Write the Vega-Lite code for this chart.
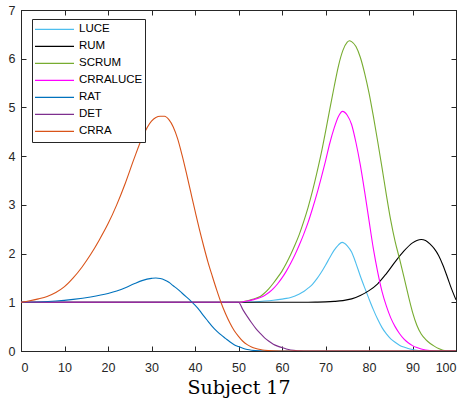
{
  "$schema": "https://vega.github.io/schema/vega-lite/v6.json",
  "width": 435,
  "height": 341,
  "autosize": "none",
  "padding": {"left": 21, "top": 10, "right": 11, "bottom": 51},
  "background": "white",
  "config": {
    "view": {"stroke": "#262626", "strokeWidth": 1},
    "axis": {
      "grid": false,
      "domainColor": "#262626",
      "tickColor": "#262626",
      "tickSize": -5,
      "labelFont": "Liberation Sans",
      "labelFontSize": 12.5,
      "labelColor": "#262626"
    },
    "legend": {
      "orient": "none",
      "legendX": 11,
      "legendY": 9,
      "strokeColor": "#262626",
      "fillColor": "white",
      "padding": 2,
      "symbolType": "stroke",
      "symbolSize": 1521,
      "symbolStrokeWidth": 1.1,
      "labelFont": "Liberation Sans",
      "labelFontSize": 11.5,
      "labelColor": "black",
      "rowPadding": 0,
      "clipHeight": 16.7,
      "labelOffset": 4
    }
  },
  "data": {"values": [
    {"s":"LUCE","x":0,"y":1},{"s":"LUCE","x":50,"y":1},{"s":"LUCE","x":52,"y":1.005},{"s":"LUCE","x":54,"y":1.012},{"s":"LUCE","x":56,"y":1.025},{"s":"LUCE","x":58,"y":1.042},{"s":"LUCE","x":60,"y":1.065},{"s":"LUCE","x":61,"y":1.08},{"s":"LUCE","x":62,"y":1.1},{"s":"LUCE","x":63,"y":1.13},{"s":"LUCE","x":64,"y":1.17},{"s":"LUCE","x":65,"y":1.22},{"s":"LUCE","x":66,"y":1.29},{"s":"LUCE","x":67,"y":1.37},{"s":"LUCE","x":68,"y":1.48},{"s":"LUCE","x":69,"y":1.61},{"s":"LUCE","x":70,"y":1.76},{"s":"LUCE","x":71,"y":1.92},{"s":"LUCE","x":72,"y":2.07},{"s":"LUCE","x":73,"y":2.18},{"s":"LUCE","x":73.8,"y":2.23},{"s":"LUCE","x":75,"y":2.16},{"s":"LUCE","x":76,"y":2.03},{"s":"LUCE","x":77,"y":1.8},{"s":"LUCE","x":78,"y":1.54},{"s":"LUCE","x":79,"y":1.3},{"s":"LUCE","x":80,"y":1.07},{"s":"LUCE","x":81,"y":0.85},{"s":"LUCE","x":82,"y":0.65},{"s":"LUCE","x":83,"y":0.48},{"s":"LUCE","x":84,"y":0.35},{"s":"LUCE","x":85,"y":0.25},{"s":"LUCE","x":86,"y":0.18},{"s":"LUCE","x":87,"y":0.12},{"s":"LUCE","x":88,"y":0.08},{"s":"LUCE","x":89,"y":0.05},{"s":"LUCE","x":90,"y":0.03},{"s":"LUCE","x":91,"y":0.015},{"s":"LUCE","x":92,"y":0.008},{"s":"LUCE","x":94,"y":0},{"s":"LUCE","x":100,"y":0},
    {"s":"RUM","x":0,"y":1},{"s":"RUM","x":66,"y":1},{"s":"RUM","x":68,"y":1.003},{"s":"RUM","x":70,"y":1.008},{"s":"RUM","x":72,"y":1.018},{"s":"RUM","x":74,"y":1.035},{"s":"RUM","x":76,"y":1.07},{"s":"RUM","x":78,"y":1.14},{"s":"RUM","x":80,"y":1.24},{"s":"RUM","x":82,"y":1.38},{"s":"RUM","x":84,"y":1.59},{"s":"RUM","x":86,"y":1.83},{"s":"RUM","x":88,"y":2.05},{"s":"RUM","x":90,"y":2.22},{"s":"RUM","x":91,"y":2.27},{"s":"RUM","x":92,"y":2.29},{"s":"RUM","x":93,"y":2.27},{"s":"RUM","x":94,"y":2.2},{"s":"RUM","x":95,"y":2.1},{"s":"RUM","x":96,"y":1.96},{"s":"RUM","x":97,"y":1.76},{"s":"RUM","x":98,"y":1.52},{"s":"RUM","x":99,"y":1.27},{"s":"RUM","x":100,"y":1.05},
    {"s":"SCRUM","x":0,"y":1},{"s":"SCRUM","x":50,"y":1},{"s":"SCRUM","x":51,"y":1.01},{"s":"SCRUM","x":52,"y":1.03},{"s":"SCRUM","x":53,"y":1.055},{"s":"SCRUM","x":54,"y":1.085},{"s":"SCRUM","x":55,"y":1.12},{"s":"SCRUM","x":56,"y":1.19},{"s":"SCRUM","x":57,"y":1.28},{"s":"SCRUM","x":58,"y":1.39},{"s":"SCRUM","x":59,"y":1.51},{"s":"SCRUM","x":60,"y":1.64},{"s":"SCRUM","x":61,"y":1.8},{"s":"SCRUM","x":62,"y":1.98},{"s":"SCRUM","x":63,"y":2.18},{"s":"SCRUM","x":64,"y":2.4},{"s":"SCRUM","x":65,"y":2.66},{"s":"SCRUM","x":66,"y":2.95},{"s":"SCRUM","x":67,"y":3.28},{"s":"SCRUM","x":68,"y":3.65},{"s":"SCRUM","x":69,"y":4.05},{"s":"SCRUM","x":70,"y":4.5},{"s":"SCRUM","x":71,"y":4.97},{"s":"SCRUM","x":72,"y":5.43},{"s":"SCRUM","x":73,"y":5.86},{"s":"SCRUM","x":74,"y":6.17},{"s":"SCRUM","x":75,"y":6.34},{"s":"SCRUM","x":75.5,"y":6.37},{"s":"SCRUM","x":76,"y":6.35},{"s":"SCRUM","x":77,"y":6.25},{"s":"SCRUM","x":78,"y":6.03},{"s":"SCRUM","x":79,"y":5.7},{"s":"SCRUM","x":80,"y":5.3},{"s":"SCRUM","x":81,"y":4.82},{"s":"SCRUM","x":82,"y":4.3},{"s":"SCRUM","x":83,"y":3.76},{"s":"SCRUM","x":84,"y":3.2},{"s":"SCRUM","x":85,"y":2.68},{"s":"SCRUM","x":86,"y":2.25},{"s":"SCRUM","x":87,"y":1.9},{"s":"SCRUM","x":88,"y":1.53},{"s":"SCRUM","x":89,"y":1.15},{"s":"SCRUM","x":90,"y":0.8},{"s":"SCRUM","x":91,"y":0.53},{"s":"SCRUM","x":92,"y":0.35},{"s":"SCRUM","x":93,"y":0.24},{"s":"SCRUM","x":94,"y":0.16},{"s":"SCRUM","x":95,"y":0.1},{"s":"SCRUM","x":96,"y":0.05},{"s":"SCRUM","x":97,"y":0.015},{"s":"SCRUM","x":98,"y":0.003},{"s":"SCRUM","x":99,"y":0},{"s":"SCRUM","x":100,"y":0},
    {"s":"CRRALUCE","x":0,"y":1},{"s":"CRRALUCE","x":50,"y":1},{"s":"CRRALUCE","x":51,"y":1.01},{"s":"CRRALUCE","x":52,"y":1.025},{"s":"CRRALUCE","x":53,"y":1.045},{"s":"CRRALUCE","x":54,"y":1.07},{"s":"CRRALUCE","x":55,"y":1.1},{"s":"CRRALUCE","x":56,"y":1.14},{"s":"CRRALUCE","x":57,"y":1.2},{"s":"CRRALUCE","x":58,"y":1.28},{"s":"CRRALUCE","x":59,"y":1.38},{"s":"CRRALUCE","x":60,"y":1.5},{"s":"CRRALUCE","x":61,"y":1.64},{"s":"CRRALUCE","x":62,"y":1.8},{"s":"CRRALUCE","x":63,"y":1.98},{"s":"CRRALUCE","x":64,"y":2.18},{"s":"CRRALUCE","x":65,"y":2.4},{"s":"CRRALUCE","x":66,"y":2.64},{"s":"CRRALUCE","x":67,"y":2.92},{"s":"CRRALUCE","x":68,"y":3.22},{"s":"CRRALUCE","x":69,"y":3.55},{"s":"CRRALUCE","x":70,"y":3.9},{"s":"CRRALUCE","x":71,"y":4.27},{"s":"CRRALUCE","x":72,"y":4.58},{"s":"CRRALUCE","x":73,"y":4.82},{"s":"CRRALUCE","x":73.9,"y":4.92},{"s":"CRRALUCE","x":75,"y":4.84},{"s":"CRRALUCE","x":76,"y":4.65},{"s":"CRRALUCE","x":77,"y":4.28},{"s":"CRRALUCE","x":78,"y":3.82},{"s":"CRRALUCE","x":79,"y":3.27},{"s":"CRRALUCE","x":80,"y":2.68},{"s":"CRRALUCE","x":81,"y":2.1},{"s":"CRRALUCE","x":82,"y":1.62},{"s":"CRRALUCE","x":83,"y":1.22},{"s":"CRRALUCE","x":84,"y":0.92},{"s":"CRRALUCE","x":85,"y":0.68},{"s":"CRRALUCE","x":86,"y":0.5},{"s":"CRRALUCE","x":87,"y":0.36},{"s":"CRRALUCE","x":88,"y":0.25},{"s":"CRRALUCE","x":89,"y":0.17},{"s":"CRRALUCE","x":90,"y":0.11},{"s":"CRRALUCE","x":91,"y":0.07},{"s":"CRRALUCE","x":92,"y":0.04},{"s":"CRRALUCE","x":93,"y":0.02},{"s":"CRRALUCE","x":94,"y":0.008},{"s":"CRRALUCE","x":96,"y":0},{"s":"CRRALUCE","x":100,"y":0},
    {"s":"RAT","x":0,"y":1},{"s":"RAT","x":4,"y":1.007},{"s":"RAT","x":8,"y":1.025},{"s":"RAT","x":12,"y":1.06},{"s":"RAT","x":16,"y":1.11},{"s":"RAT","x":20,"y":1.18},{"s":"RAT","x":22,"y":1.23},{"s":"RAT","x":24,"y":1.3},{"s":"RAT","x":26,"y":1.38},{"s":"RAT","x":28,"y":1.45},{"s":"RAT","x":30,"y":1.49},{"s":"RAT","x":31,"y":1.5},{"s":"RAT","x":32,"y":1.49},{"s":"RAT","x":33,"y":1.46},{"s":"RAT","x":34,"y":1.41},{"s":"RAT","x":35,"y":1.34},{"s":"RAT","x":36,"y":1.27},{"s":"RAT","x":37,"y":1.19},{"s":"RAT","x":38,"y":1.11},{"s":"RAT","x":39,"y":1.03},{"s":"RAT","x":40,"y":0.94},{"s":"RAT","x":41,"y":0.84},{"s":"RAT","x":42,"y":0.72},{"s":"RAT","x":43,"y":0.61},{"s":"RAT","x":44,"y":0.5},{"s":"RAT","x":45,"y":0.41},{"s":"RAT","x":46,"y":0.33},{"s":"RAT","x":47,"y":0.26},{"s":"RAT","x":48,"y":0.19},{"s":"RAT","x":49,"y":0.13},{"s":"RAT","x":50,"y":0.09},{"s":"RAT","x":51,"y":0.055},{"s":"RAT","x":52,"y":0.03},{"s":"RAT","x":53,"y":0.015},{"s":"RAT","x":55,"y":0.003},{"s":"RAT","x":57,"y":0},{"s":"RAT","x":100,"y":0},
    {"s":"DET","x":0,"y":1},{"s":"DET","x":50,"y":1},{"s":"DET","x":51,"y":0.85},{"s":"DET","x":52,"y":0.71},{"s":"DET","x":53,"y":0.58},{"s":"DET","x":54,"y":0.46},{"s":"DET","x":55,"y":0.36},{"s":"DET","x":56,"y":0.27},{"s":"DET","x":57,"y":0.2},{"s":"DET","x":58,"y":0.14},{"s":"DET","x":59,"y":0.1},{"s":"DET","x":60,"y":0.07},{"s":"DET","x":61,"y":0.04},{"s":"DET","x":62,"y":0.02},{"s":"DET","x":64,"y":0.005},{"s":"DET","x":66,"y":0},{"s":"DET","x":100,"y":0},
    {"s":"CRRA","x":0,"y":1},{"s":"CRRA","x":2,"y":1.03},{"s":"CRRA","x":4,"y":1.07},{"s":"CRRA","x":6,"y":1.12},{"s":"CRRA","x":8,"y":1.2},{"s":"CRRA","x":10,"y":1.32},{"s":"CRRA","x":12,"y":1.5},{"s":"CRRA","x":14,"y":1.72},{"s":"CRRA","x":16,"y":1.98},{"s":"CRRA","x":18,"y":2.28},{"s":"CRRA","x":20,"y":2.61},{"s":"CRRA","x":22,"y":3.0},{"s":"CRRA","x":24,"y":3.45},{"s":"CRRA","x":26,"y":3.95},{"s":"CRRA","x":28,"y":4.41},{"s":"CRRA","x":30,"y":4.72},{"s":"CRRA","x":32,"y":4.82},{"s":"CRRA","x":33,"y":4.82},{"s":"CRRA","x":34,"y":4.75},{"s":"CRRA","x":35,"y":4.6},{"s":"CRRA","x":36,"y":4.36},{"s":"CRRA","x":37,"y":4.03},{"s":"CRRA","x":38,"y":3.66},{"s":"CRRA","x":39,"y":3.27},{"s":"CRRA","x":40,"y":2.88},{"s":"CRRA","x":41,"y":2.5},{"s":"CRRA","x":42,"y":2.15},{"s":"CRRA","x":43,"y":1.82},{"s":"CRRA","x":44,"y":1.53},{"s":"CRRA","x":45,"y":1.25},{"s":"CRRA","x":46,"y":0.99},{"s":"CRRA","x":47,"y":0.77},{"s":"CRRA","x":48,"y":0.58},{"s":"CRRA","x":49,"y":0.42},{"s":"CRRA","x":50,"y":0.3},{"s":"CRRA","x":51,"y":0.2},{"s":"CRRA","x":52,"y":0.13},{"s":"CRRA","x":53,"y":0.08},{"s":"CRRA","x":54,"y":0.05},{"s":"CRRA","x":55,"y":0.03},{"s":"CRRA","x":56,"y":0.015},{"s":"CRRA","x":58,"y":0.003},{"s":"CRRA","x":60,"y":0},{"s":"CRRA","x":100,"y":0}
  ]},
  "layer": [
    {
      "mark": {"type": "line", "interpolate": "monotone", "strokeWidth": 1.1, "clip": true},
      "encoding": {
        "x": {"field": "x", "type": "quantitative", "scale": {"domain": [0, 100], "nice": false},
              "axis": {"orient": "bottom", "values": [0,10,20,30,40,50,60,70,80,90,100], "labelPadding": 15, "title": "Subject 17",
                       "titleFont": "DejaVu Serif", "titleFontSize": 19, "titleFontWeight": "normal", "titleColor": "black",
                       "titleBaseline": "alphabetic", "titleY": 42}},
        "y": {"field": "y", "type": "quantitative", "scale": {"domain": [0, 7], "nice": false},
              "axis": {"orient": "left", "values": [0,1,2,3,4,5,6,7], "labelPadding": 11, "title": null}},
        "color": {"field": "s", "type": "nominal",
                  "scale": {"domain": ["LUCE","RUM","SCRUM","CRRALUCE","RAT","DET","CRRA"],
                            "range": ["#4DBEEE","#000000","#77AC30","#FF00FF","#0072BD","#7E2F8E","#D95319"]},
                  "legend": {"title": null}}
      }
    },
    {
      "mark": {"type": "line", "opacity": 0},
      "encoding": {
        "x": {"field": "x", "type": "quantitative",
              "axis": {"orient": "top", "values": [0,10,20,30,40,50,60,70,80,90,100], "labels": false, "title": null}},
        "y": {"field": "y", "type": "quantitative",
              "axis": {"orient": "right", "values": [0,1,2,3,4,5,6,7], "labels": false, "title": null}},
        "detail": {"field": "s"}
      }
    }
  ],
  "resolve": {"axis": {"x": "independent", "y": "independent"}}
}
